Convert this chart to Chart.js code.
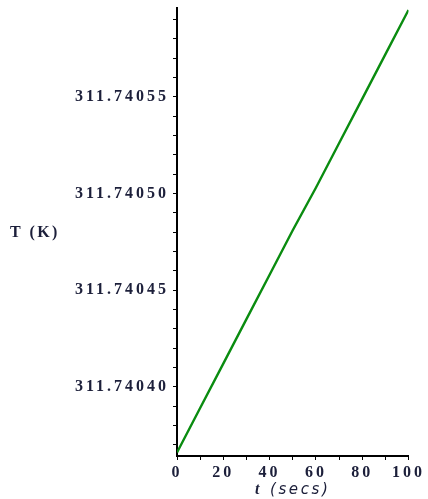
<!DOCTYPE html>
<html>
<head>
<meta charset="utf-8">
<script src="https://cdn.jsdelivr.net/npm/chart.js@4/dist/chart.umd.min.js"></script>
<style>
  html, body { margin: 0; padding: 0; background: #fff; }
  #wrap { width: 428px; height: 499px; position: relative; }
</style>
</head>
<body>
<div id="wrap"><canvas id="c" width="428" height="499"></canvas></div>
<script>
// Temperature history T(t) over 100 seconds
const times = [0, 10, 20, 30, 40, 50, 60, 70, 80, 90, 100];
const temps = [311.740366, 311.740389, 311.740412, 311.740435, 311.740458,
               311.740481, 311.740503, 311.740526, 311.740549, 311.740572, 311.740595];

// Axis tick values (labels on every 5th y tick, every 2nd x tick)
const yTicks = [311.74037, 311.74038, 311.74039, 311.74040, 311.74041, 311.74042,
                311.74043, 311.74044, 311.74045, 311.74046, 311.74047, 311.74048,
                311.74049, 311.74050, 311.74051, 311.74052, 311.74053, 311.74054,
                311.74055, 311.74056, 311.74057, 311.74058, 311.74059];
const yLabelled = ['311.74040', '311.74045', '311.74050', '311.74055'];
const xTicks = [0, 10, 20, 30, 40, 50, 60, 70, 80, 90, 100];
const xLabelled = [0, 20, 40, 60, 80, 100];

const TEXT = '#1c1f3a';
const SPACING = '3px';

const spacingPlugin = {
  id: 'spacing',
  beforeLayout(chart) { chart.ctx.letterSpacing = SPACING; },
  beforeDraw(chart) { chart.ctx.letterSpacing = SPACING; }
};

const titlesPlugin = {
  id: 'titles',
  afterDraw(chart) {
    const ctx = chart.ctx;
    ctx.save();
    ctx.fillStyle = TEXT;
    ctx.textBaseline = 'middle';
    ctx.letterSpacing = '2.4px';
    ctx.font = 'bold 16px "Liberation Serif"';
    ctx.textAlign = 'left';
    ctx.fillText('T (K)', 10, 233);
    // x-axis title: italic t, then (secs)
    ctx.font = 'italic bold 16px "Liberation Serif"';
    ctx.fillText('t', 255, 490);
    ctx.letterSpacing = '2.6px';
    ctx.font = 'italic 15px "DejaVu Sans"';
    ctx.fillText('(secs)', 270, 490);
    ctx.restore();
  }
};

new Chart(document.getElementById('c'), {
  type: 'line',
  data: {
    datasets: [{
      data: times.map((t, i) => ({ x: t, y: temps[i] })),
      borderColor: '#0a8c10',
      borderWidth: 2.4,
      pointRadius: 0,
      tension: 0,
      fill: false
    }]
  },
  options: {
    responsive: false,
    animation: false,
    events: [],
    layout: { padding: { top: 0, right: 16, left: 0, bottom: 0 } },
    plugins: { legend: { display: false }, tooltip: { enabled: false } },
    scales: {
      x: {
        type: 'linear',
        min: 0,
        max: 100,
        afterBuildTicks(scale) { scale.ticks = xTicks.map(v => ({ value: v })); },
        afterFit(scale) { scale.height = 43; },
        border: { display: true, color: '#000', width: 2 },
        grid: { display: true, drawOnChartArea: false, drawTicks: true, tickLength: 4, color: '#000', lineWidth: 1 },
        ticks: {
          autoSkip: false,
          maxRotation: 0,
          padding: 3,
          color: TEXT,
          font: { family: '"Liberation Serif"', size: 16, weight: 'bold' },
          callback: v => (xLabelled.includes(v) ? String(v) : '')
        }
      },
      y: {
        type: 'linear',
        min: 311.7403642,
        max: 311.7405960,
        afterBuildTicks(scale) { scale.ticks = yTicks.map(v => ({ value: v })); },
        afterFit(scale) {
          scale.width = 177;
          scale.paddingTop = 8;
          scale.paddingBottom = 0;
        },
        border: { display: true, color: '#000', width: 2 },
        grid: { display: true, drawOnChartArea: false, drawTicks: true, tickLength: 4, color: '#000', lineWidth: 1 },
        ticks: {
          autoSkip: false,
          padding: 4,
          color: TEXT,
          font: { family: '"Liberation Serif"', size: 16, weight: 'bold' },
          callback: v => {
            const s = v.toFixed(5);
            return yLabelled.includes(s) ? s : '';
          }
        }
      }
    }
  },
  plugins: [spacingPlugin, titlesPlugin]
});
</script>
</body>
</html>
